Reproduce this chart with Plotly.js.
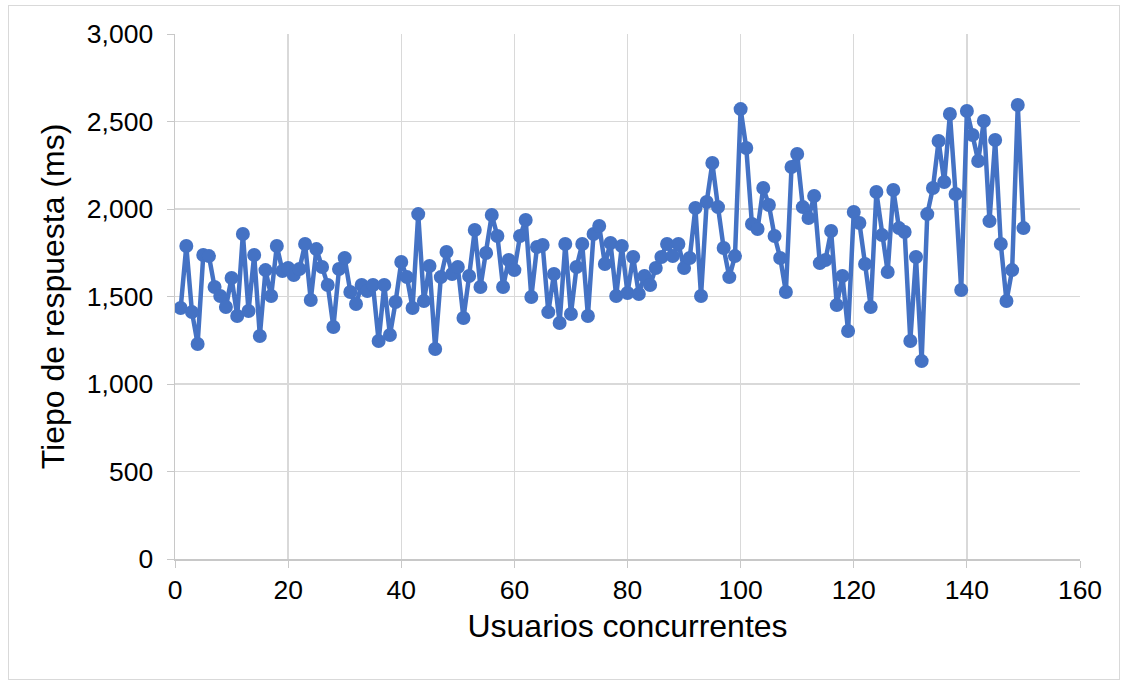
<!DOCTYPE html>
<html>
<head>
<meta charset="utf-8">
<script src="https://cdn.plot.ly/plotly-3.0.1.min.js"></script>
<style>
  html, body { margin: 0; padding: 0; background: #fff; }
  #chart { width: 1125px; height: 682px; }
  #frame { position: absolute; left: 8px; top: 5px; width: 1110px; height: 673px; border: 1px solid #d9d9d9; pointer-events: none; }
</style>
</head>
<body>
<div id="chart"></div>
<div id="frame"></div>
<script>
const users = [];
for (let i = 1; i <= 150; i++) users.push(i);

const responseMs = [
  1434, 1789, 1411, 1229, 1737, 1731, 1554, 1503, 1440, 1606,
  1389, 1857, 1417, 1737, 1274, 1651, 1503, 1789, 1646, 1663,
  1623, 1657, 1800, 1480, 1771, 1669, 1566, 1326, 1657, 1720,
  1526, 1457, 1566, 1531, 1566, 1246, 1566, 1280, 1469, 1697,
  1611, 1434, 1971, 1474, 1674, 1200, 1611, 1754, 1629, 1669,
  1377, 1617, 1880, 1554, 1749, 1966, 1846, 1554, 1709, 1651,
  1846, 1937, 1497, 1783, 1794, 1411, 1629, 1349, 1800, 1400,
  1669, 1800, 1389, 1857, 1903, 1686, 1806, 1503, 1789, 1520,
  1726, 1514, 1617, 1566, 1663, 1726, 1800, 1731, 1800, 1663,
  1720, 2006, 1503, 2040, 2263, 2011, 1777, 1611, 1731, 2571,
  2349, 1914, 1886, 2120, 2023, 1846, 1720, 1526, 2240, 2314,
  2011, 1949, 2074, 1691, 1709, 1874, 1451, 1617, 1303, 1983,
  1920, 1686, 1440, 2097, 1851, 1640, 2109, 1891, 1869, 1246,
  1726, 1131, 1971, 2120, 2389, 2154, 2543, 2086, 1537, 2560,
  2423, 2274, 2503, 1931, 2394, 1800, 1474, 1651, 2594, 1891
];

const xTitle = 'Usuarios concurrentes';
const yTitle = 'Tiepo de respuesta (ms)';

const trace = {
  x: users,
  y: responseMs,
  type: 'scatter',
  mode: 'lines+markers',
  line: { color: '#4472C4', width: 4.5 },
  marker: { color: '#4472C4', size: 14 },
  hoverinfo: 'x+y'
};

const fontFam = '"Liberation Sans", Arial, sans-serif';

const layout = {
  width: 1125,
  height: 682,
  margin: { l: 175, r: 45, t: 34, b: 123 },
  paper_bgcolor: '#ffffff',
  plot_bgcolor: '#ffffff',
  showlegend: false,
  font: { family: fontFam, color: '#000000', size: 26.5 },
  xaxis: {
    range: [0, 160],
    dtick: 20,
    tick0: 0,
    showgrid: true,
    gridcolor: '#d9d9d9',
    gridwidth: 1.3,
    zeroline: false,
    showline: true,
    linecolor: '#c8c8c8',
    linewidth: 1.5,
    ticks: 'outside',
    ticklen: 7,
    tickcolor: '#c8c8c8',
    tickfont: { family: fontFam, size: 26.5, color: '#000' },
    title: { text: xTitle, font: { family: fontFam, size: 32, color: '#000' }, standoff: 10 }
  },
  yaxis: {
    range: [0, 3000],
    dtick: 500,
    tick0: 0,
    tickformat: ',d',
    showgrid: true,
    gridcolor: '#d9d9d9',
    gridwidth: 1.3,
    zeroline: false,
    showline: true,
    linecolor: '#c8c8c8',
    linewidth: 1.5,
    ticks: 'outside',
    ticklen: 7,
    tickcolor: '#c8c8c8',
    ticklabelstandoff: 8,
    tickfont: { family: fontFam, size: 26.5, color: '#000' },
    title: { text: yTitle, font: { family: fontFam, size: 32, color: '#000' }, standoff: 12 }
  }
};

Plotly.newPlot('chart', [trace], layout, { displayModeBar: false, staticPlot: true });
</script>
</body>
</html>
